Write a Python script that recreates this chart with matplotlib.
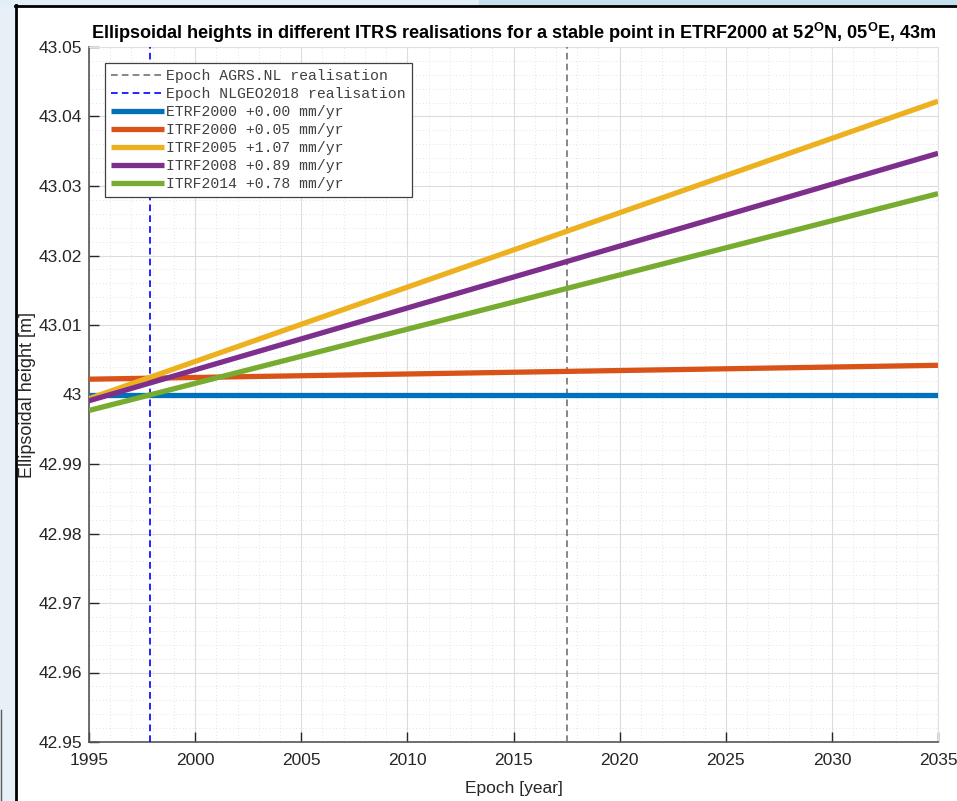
import numpy as np
import matplotlib.pyplot as plt
from matplotlib.patches import Rectangle
from matplotlib.lines import Line2D
from matplotlib.ticker import MultipleLocator, FuncFormatter

plt.rcParams['font.family'] = ['Liberation Sans', 'DejaVu Sans']
plt.rcParams['mathtext.default'] = 'regular'

# Heights at start / end epoch per realisation [m]
years = [1995, 2035]
etrf2000 = [43.0000, 43.0000]
itrf2000 = [43.0022, 43.0042]
itrf2005 = [42.9994, 43.0422]
itrf2008 = [42.9991, 43.0347]
itrf2014 = [42.9977, 43.0289]
rates = [0.00, 0.05, 1.07, 0.89, 0.78]
names = ['ETRF2000', 'ITRF2000', 'ITRF2005', 'ITRF2008', 'ITRF2014']

epoch_agrs = 2017.5
epoch_nlgeo = 1997.87

colors = ['#0072BD', '#D95319', '#EDB120', '#7E2F8E', '#77AC30']

W, H = 957, 801
fig = plt.figure(figsize=(W/100, H/100), dpi=100)
fig.patch.set_facecolor('white')

# window border
fig.patches.append(Rectangle((0, 0), 15/W, 1, transform=fig.transFigure,
                             color='#e6f0f6', zorder=-5))
fig.patches.append(Rectangle((0, 1-5/H), 0.5, 5/H, transform=fig.transFigure,
                             color='#e3eff6', zorder=-5))
fig.patches.append(Rectangle((0.5, 1-5/H), 0.5, 5/H, transform=fig.transFigure,
                             color='#c4e0ee', zorder=-5))
fig.lines.append(Line2D([15.5/W, 15.5/W], [0, 1-5/H], transform=fig.transFigure,
                        color='black', lw=2))
fig.lines.append(Line2D([15/W, 1], [1-5.5/H, 1-5.5/H], transform=fig.transFigure,
                        color='black', lw=2))
fig.lines.append(Line2D([0.7/W, 0.7/W], [0, 91/H], transform=fig.transFigure,
                        color='0.35', lw=1))

ax = fig.add_axes([89/W, (H-742)/H, (938-89)/W, (742-47)/H])

ax.axvline(epoch_agrs, color='0.45', lw=1.2, ls=(0, (4, 2.5)),
           label='Epoch AGRS.NL realisation', zorder=3)
ax.axvline(epoch_nlgeo, color='blue', lw=1.2, ls=(0, (4, 2.5)),
           label='Epoch NLGEO2018 realisation', zorder=3)

series = [etrf2000, itrf2000, itrf2005, itrf2008, itrf2014]
for h, c, n, r in zip(series, colors, names, rates):
    ax.plot(years, h, color=c, lw=3.8, solid_capstyle='butt',
            label=f'{n} +{r:.2f} mm/yr', zorder=4)

ax.set_xlim(1995, 2035)
ax.set_ylim(42.95, 43.05)
ax.xaxis.set_major_locator(MultipleLocator(5))
ax.xaxis.set_minor_locator(MultipleLocator(1))
ax.yaxis.set_major_locator(MultipleLocator(0.01))
ax.yaxis.set_minor_locator(MultipleLocator(0.002))
ax.yaxis.set_major_formatter(FuncFormatter(lambda v, p: format(round(v, 3), 'g')))

ax.grid(which='major', color='#dcdcdc', lw=0.8)
ax.grid(which='minor', color='#dadada', lw=0.6, ls=(0, (1, 3)))
ax.set_axisbelow(True)

for s in ['top', 'right']:
    ax.spines[s].set_color('#e0e0e0')
for s in ['left', 'bottom']:
    ax.spines[s].set_color('#555555')
    ax.spines[s].set_linewidth(1.2)
ax.tick_params(which='major', direction='in', length=7, width=1, color='#262626',
               labelsize=12.5, labelcolor='#262626', top=False, right=False)
ax.tick_params(axis='x', which='major', pad=8)
ax.tick_params(axis='y', which='major', pad=5)
ax.tick_params(which='minor', length=0)

ax.set_xlabel('Epoch [year]', fontsize=12.5, color='#262626', labelpad=9)
ax.set_ylabel('Ellipsoidal height [m]', fontsize=13, color='#262626')
ax.yaxis.set_label_coords(-0.0625, 0.5)
ax.set_title(r'Ellipsoidal heights in different ITRS realisations for a stable point in ETRF2000 at 52$^{O}$N, 05$^{O}$E, 43m',
             fontsize=13.1, fontweight='bold', pad=6)

leg = ax.legend(loc='upper left', bbox_to_anchor=(0.019, 0.977),
                prop={'family': 'Liberation Mono', 'size': 10.6},
                handlelength=3.6, handletextpad=0.15, labelspacing=0.27,
                borderpad=0.4, borderaxespad=0, fancybox=False,
                edgecolor='#404040', framealpha=1)
leg.get_frame().set_linewidth(0.9)
for t in leg.get_texts():
    t.set_color('#404040')

fig.savefig('out.png', dpi=100)
